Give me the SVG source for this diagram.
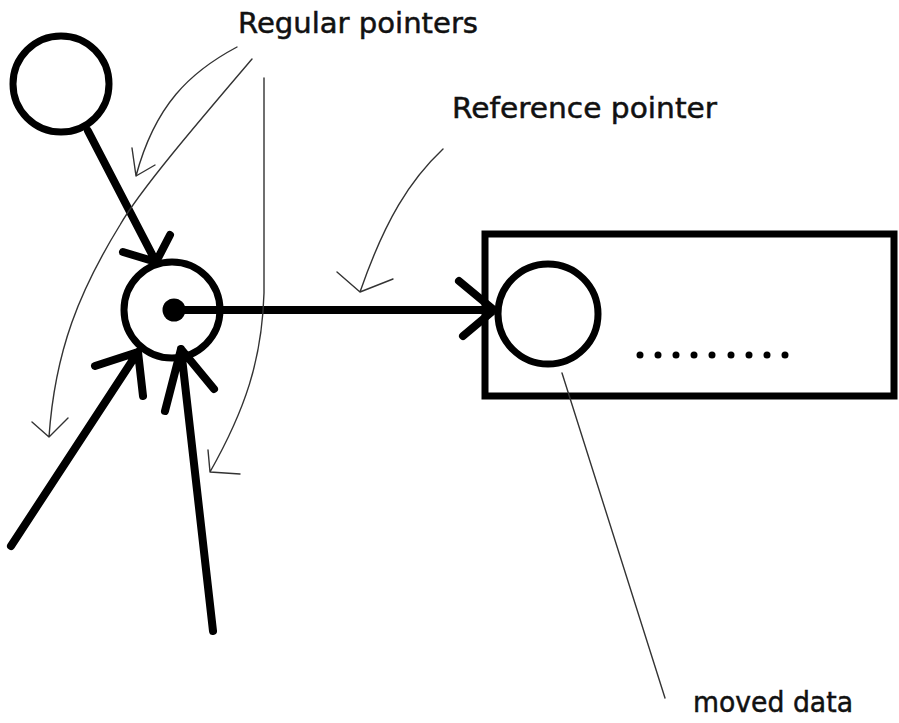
<svg xmlns="http://www.w3.org/2000/svg" width="899" height="723" viewBox="0 0 899 723">
<style>
.node{fill:none;stroke:#000;stroke-width:7}
.thick{fill:none;stroke:#000;stroke-width:8;stroke-linecap:round;stroke-linejoin:round}
.thin{fill:none;stroke:#333;stroke-width:1.4;stroke-linecap:round;stroke-linejoin:round}
.lbl{font-family:"DejaVu Sans","Liberation Sans",sans-serif;font-size:28px;fill:#111;stroke:#111;stroke-width:0.5}
</style>
<rect width="899" height="723" fill="#fff"/>
<g id="top-object">
<circle class="node" cx="61" cy="84" r="48"/>
</g>
<g id="handle">
<circle class="node" cx="172" cy="310" r="48"/>
<circle cx="174" cy="310" r="11.5" fill="#000"/>
</g>
<g id="moved-data">
<rect class="node" x="485" y="234" width="409" height="162" stroke-width="9"/>
<circle class="node" cx="548" cy="314" r="50"/>
<g fill="#000">
<circle cx="640" cy="355" r="3.5"/><circle cx="658" cy="355" r="3.5"/><circle cx="676" cy="355" r="3.5"/>
<circle cx="694" cy="355" r="3.5"/><circle cx="712" cy="355" r="3.5"/><circle cx="731" cy="355" r="3.5"/>
<circle cx="749" cy="355" r="3.5"/><circle cx="767" cy="355" r="3.5"/><circle cx="785" cy="355" r="3.5"/>
</g>
</g>
<g id="labels">
<text class="lbl" x="238" y="33" textLength="240" lengthAdjust="spacingAndGlyphs">Regular pointers</text>
<text class="lbl" x="452" y="118" textLength="265" lengthAdjust="spacingAndGlyphs">Reference pointer</text>
<text class="lbl" x="693" y="712" textLength="160" lengthAdjust="spacingAndGlyphs">moved data</text>
</g>
<g id="connectors">
<path class="thick" d="M88,131 L156,262 M123,252 L156,262 L170,235"/>
<path class="thick" d="M11,546 L138,352 M95,366 L138,352 L143,396"/>
<path class="thick" d="M213,631 L181,349 M165,411 L181,349 L214,389"/>
<path class="thick" d="M174,310 L494,310 M459,281 L494,310 L463,336"/>
<path class="thin" d="M237,47 C190,72 155,105 136,176 M132,148 L136,176 L155,165"/>
<path class="thin" d="M252,59 C200,120 140,190 120,225 C80,290 55,350 49,437 M32,422 L49,437 L68,418"/>
<path class="thin" d="M264,78 L264,293 C262,360 245,410 210,472 M208,450 L210,472 L240,474"/>
<path class="thin" d="M443,149 C410,180 385,220 360,292 M337,272 L360,292 L393,279"/>
<path class="thin" d="M562,373 L665,698"/>
</g>
</svg>
